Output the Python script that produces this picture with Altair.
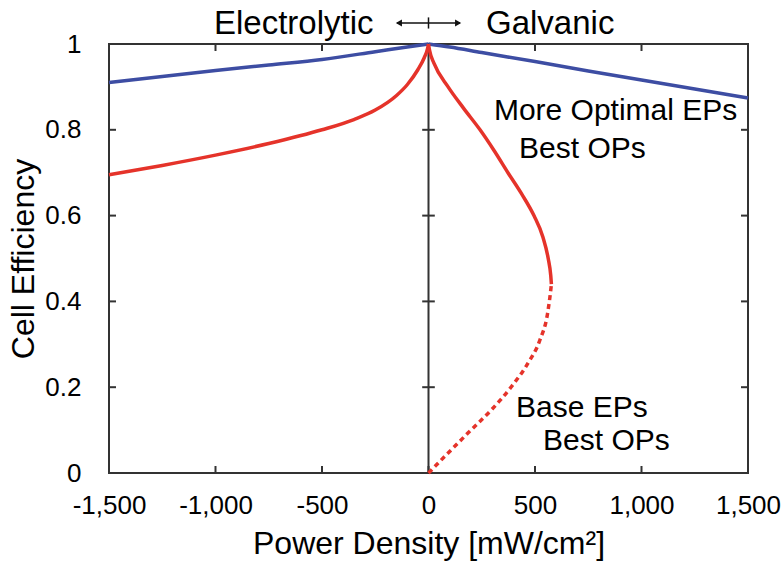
import altair as alt
import pandas as pd

# ---- data ----
blue_left_x = [-1500, -1250, -1000, -750, -500, -250, -100, 0]
blue_left_y = [0.910, 0.924, 0.938, 0.951, 0.964, 0.982, 0.993, 1.0]
blue_right_x = [0, 100, 250, 500, 750, 1000, 1250, 1500]
blue_right_y = [1.0, 0.993, 0.980, 0.959, 0.937, 0.916, 0.895, 0.874]

red_left_x = [-1500, -1250, -1000, -750, -500, -350, -250, -150, -100, -50, -20, -5, 0]
red_left_y = [0.695, 0.717, 0.741, 0.768, 0.800, 0.824, 0.846, 0.880, 0.905, 0.940, 0.968, 0.988, 1.0]
red_right_x = [0, 5, 26, 92, 165, 242, 310, 373, 438, 495, 537, 562, 574, 577]
red_right_y = [1.0, 0.985, 0.955, 0.900, 0.850, 0.800, 0.750, 0.700, 0.650, 0.600, 0.550, 0.500, 0.460, 0.440]

dash_x = [577, 570, 559, 523, 467, 389, 295, 185, 91, 0]
dash_y = [0.440, 0.410, 0.372, 0.310, 0.256, 0.201, 0.147, 0.093, 0.046, 0.0]

x_ticks = [-1500, -1000, -500, 0, 500, 1000, 1500]
y_ticks = [0, 0.2, 0.4, 0.6, 0.8, 1.0]

notes = ["More Optimal EPs", "Best OPs", "Base EPs", "Best OPs"]
notes_x = [307, 425, 411, 538]
notes_y = [0.823, 0.734, 0.1305, 0.0536]

top_labels = ["Electrolytic", "Galvanic"]
top_x = [-258, 270]
top_y = 1.0233

FONT = "Liberation Sans, Arial, Helvetica, sans-serif"
BLUE = "#3D4DA3"
RED = "#E5332A"

xs = alt.Scale(domain=[-1500, 1500], nice=False, zero=False)
ys = alt.Scale(domain=[0, 1], nice=False, zero=False)

xaxis = alt.Axis(values=x_ticks, labelExpr="replace(format(datum.value, ','), '\u2212', '-')",
                 labelFontSize=26, labelPadding=19,
                 title="Power Density [mW/cm²]", titleFontSize=32, titlePadding=10,
                 ticks=False, domain=False, grid=False, labelFlush=False,
                 labelOverlap=False, labelColor="#000", titleColor="#000",
                 labelFont=FONT, titleFont=FONT, titleFontWeight="normal")
yaxis = alt.Axis(values=y_ticks, labelExpr="format(datum.value, '~g')",
                 labelFontSize=26, labelPadding=28,
                 title="Cell Efficiency", titleFontSize=32, titlePadding=4,
                 ticks=False, domain=False, grid=False, labelFlush=False,
                 labelOverlap=False, labelColor="#000", titleColor="#000",
                 labelFont=FONT, titleFont=FONT, titleFontWeight="normal")

X = alt.X("x:Q", scale=xs, axis=xaxis)
Y = alt.Y("y:Q", scale=ys, axis=yaxis)


def seg(xv, yv, name):
    return pd.DataFrame({"x": xv, "y": yv, "seg": [name] * len(xv)})


blue_df = pd.concat([seg(blue_left_x, blue_left_y, "bl"), seg(blue_right_x, blue_right_y, "br")])
red_df = pd.concat([seg(red_left_x, red_left_y, "rl"), seg(red_right_x, red_right_y, "rr")])
dash_df = seg(dash_x, dash_y, "rd")

blue = alt.Chart(blue_df).mark_line(color=BLUE, strokeWidth=3.5, interpolate="monotone").encode(
    x=X, y=Y, detail="seg:N")
red = alt.Chart(red_df).mark_line(color=RED, strokeWidth=3.5, interpolate="monotone").encode(
    x=X, y=Y, detail="seg:N")
dashed = alt.Chart(dash_df).mark_line(color=RED, strokeWidth=3.5, strokeDash=[5, 4],
                                      interpolate="monotone").encode(x=X, y=Y)

# zero vertical line
zero_df = pd.DataFrame({"x": [0], "y": [0], "y2": [1]})
zero_line = alt.Chart(zero_df).mark_rule(color="#333", strokeWidth=2).encode(x=X, y=Y, y2="y2:Q")

# inward ticks
tlen_x = 7 / 0.213   # in x data units
tlen_y = 7 / 429     # in y data units
inner_x = [v for v in x_ticks if v not in (-1500, 1500)]
inner_y = [v for v in y_ticks if v not in (0, 1.0)]
tick_rows = []
for v in inner_x:
    tick_rows.append({"x": v, "x2": v, "y": 0, "y2": tlen_y})
    tick_rows.append({"x": v, "x2": v, "y": 1, "y2": 1 - tlen_y})
for v in inner_y:
    tick_rows.append({"x": -1500, "x2": -1500 + tlen_x, "y": v, "y2": v})
    tick_rows.append({"x": 1500, "x2": 1500 - tlen_x, "y": v, "y2": v})
    tick_rows.append({"x": -tlen_x * 0.9, "x2": tlen_x * 0.9, "y": v, "y2": v})
ticks = alt.Chart(pd.DataFrame(tick_rows)).mark_rule(color="#333", strokeWidth=2).encode(
    x=X, x2="x2:Q", y=Y, y2="y2:Q")

notes_df = pd.DataFrame({"x": notes_x, "y": notes_y, "t": notes})
note_text = alt.Chart(notes_df).mark_text(align="left", baseline="alphabetic", fontSize=30,
                                          font=FONT, color="#000").encode(x=X, y=Y, text="t:N")

top_left = alt.Chart(pd.DataFrame({"x": [top_x[0]], "y": [top_y], "t": [top_labels[0]]})).mark_text(
    align="right", baseline="alphabetic", fontSize=33, font=FONT, color="#000").encode(
    x=X, y=Y, text="t:N")
top_right = alt.Chart(pd.DataFrame({"x": [top_x[1]], "y": [top_y], "t": [top_labels[1]]})).mark_text(
    align="left", baseline="alphabetic", fontSize=33, font=FONT, color="#000").encode(
    x=X, y=Y, text="t:N")

arrow_y = 1.049
arrow_half = 148
arrow_line = alt.Chart(pd.DataFrame({"x": [-arrow_half], "x2": [arrow_half], "y": [arrow_y]})).mark_rule(
    color="#111", strokeWidth=1.5).encode(x=X, x2="x2:Q", y=Y)
arrow_mid = alt.Chart(pd.DataFrame({"x": [0], "y": [arrow_y - 0.013], "y2": [arrow_y + 0.013]})).mark_rule(
    color="#111", strokeWidth=1.5).encode(x=X, y=Y, y2="y2:Q")
heads_df = pd.DataFrame({"x": [-arrow_half + 9, arrow_half - 9], "y": [arrow_y] * 2,
                         "s": ["triangle-left", "triangle-right"]})
arrow_heads = alt.Chart(heads_df).mark_point(filled=True, color="#111", size=50, opacity=1).encode(
    x=X, y=Y,
    shape=alt.Shape("s:N", scale=alt.Scale(domain=["triangle-left", "triangle-right"],
                                           range=["triangle-left", "triangle-right"]), legend=None))

chart = alt.layer(
    blue, zero_line, ticks, red, dashed, note_text, top_left, top_right,
    arrow_line, arrow_mid, arrow_heads
).properties(
    width=639, height=429,
    autosize=alt.AutoSizeParams(type="none"),
    padding={"left": 109, "top": 44, "right": 34, "bottom": 96},
    background="white",
).configure_view(stroke="#333", strokeWidth=2)

chart.save("out.html", embed_options={"renderer": "svg", "actions": False})
